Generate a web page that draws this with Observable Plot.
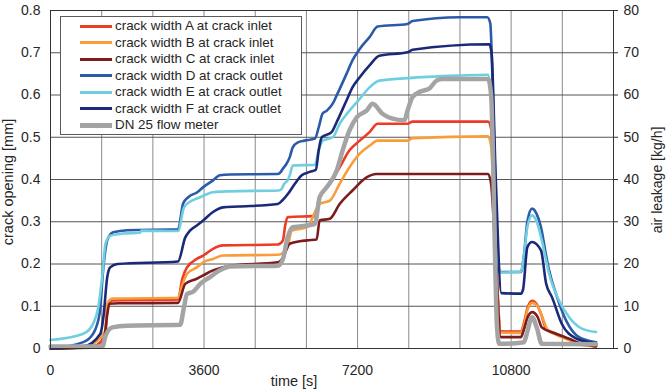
<!DOCTYPE html>
<html>
<head>
<meta charset="utf-8">
<script src="https://cdn.jsdelivr.net/npm/d3@7"></script>
<script src="https://cdn.jsdelivr.net/npm/@observablehq/plot@0.6"></script>
<style>
  body { margin: 0; background: #fff; font-family: "Liberation Sans", Arial, sans-serif; }
  #chart { position: relative; width: 668px; height: 392px; }
  .legend { position: absolute; left: 60px; top: 16px; width: 242px; height: 119px;
            border: 1px solid #5a5a5a; background: #fff; box-sizing: border-box; }
  .legend .row { position: absolute; left: 0; height: 16px; line-height: 16px;
                 font-size: 13.4px; color: #262626; white-space: nowrap; }
  .legend .swatch { position: absolute; left: 19px; width: 32px; top: 6.5px; height: 3px; }
  .legend .label { position: absolute; left: 54px; top: 0; }
</style>
</head>
<body>
<div id="chart"></div>
<script>
// Time in seconds, crack opening in mm
const crackA = [
  [0,0],[1000,0.005],[1170,0.015],[1290,0.035],[1330,0.098],[1450,0.114],[2990,0.116],
  [3090,0.165],[3200,0.192],[3430,0.212],[3580,0.220],[3810,0.236],[4040,0.244],[5330,0.246],
  [5450,0.256],[5500,0.290],[5560,0.311],[6240,0.314],[6310,0.358],[6550,0.390],[6780,0.429],
  [7010,0.469],[7250,0.492],[7480,0.512],[7670,0.532],[8370,0.532],[8490,0.537],[10260,0.537],
  [10330,0.52],[10450,0.2],[10560,0.041],[11030,0.040],[11100,0.06],[11180,0.095],[11290,0.113],
  [11400,0.105],[11500,0.082],[11620,0.047],[11850,0.035],[12160,0.021],[12390,0.011],[12790,0.005]
];
const crackB = [
  [0,0],[770,0.003],[1100,0.019],[1290,0.043],[1330,0.106],[1450,0.118],[2990,0.120],
  [3090,0.150],[3200,0.177],[3430,0.192],[3580,0.204],[3810,0.212],[4040,0.220],[5330,0.222],
  [5540,0.235],[5660,0.279],[6010,0.287],[6310,0.342],[6550,0.350],[6780,0.390],[7010,0.429],
  [7250,0.461],[7480,0.480],[7670,0.492],[8370,0.492],[8490,0.498],[10260,0.502],[10330,0.48],
  [10450,0.2],[10560,0.038],[11030,0.037],[11100,0.055],[11180,0.09],[11290,0.108],[11420,0.1],
  [11530,0.075],[11650,0.045],[11850,0.033],[12160,0.020],[12390,0.010],[12790,0.005]
];
const crackC = [
  [0,0],[1170,0.003],[1240,0.01],[1330,0.080],[1380,0.106],[1600,0.107],[2990,0.108],
  [3160,0.153],[3430,0.165],[3580,0.173],[3810,0.185],[4040,0.192],[4210,0.196],[5330,0.204],
  [5450,0.215],[5610,0.248],[6010,0.256],[6240,0.258],[6310,0.303],[6550,0.307],[6780,0.342],
  [7080,0.374],[7410,0.405],[7640,0.413],[10260,0.413],[10330,0.39],[10420,0.25],[10560,0.027],
  [11030,0.027],[11100,0.045],[11180,0.072],[11290,0.086],[11420,0.075],[11520,0.05],
  [11850,0.035],[12160,0.023],[12460,0.011],[12790,0.005]
];
const crackD = [
  [0,0],[770,0.015],[1000,0.035],[1150,0.082],[1240,0.192],[1330,0.256],[1470,0.275],
  [1800,0.280],[2990,0.282],[3110,0.343],[3230,0.358],[3440,0.370],[3580,0.382],[3810,0.398],
  [3970,0.410],[4210,0.412],[5330,0.413],[5400,0.418],[5450,0.426],[5520,0.435],[5610,0.453],
  [5680,0.476],[5800,0.488],[5960,0.492],[6200,0.497],[6290,0.524],[6380,0.556],[6480,0.563],
  [6620,0.580],[6710,0.599],[6940,0.650],[7080,0.682],[7250,0.709],[7480,0.737],[7670,0.762],
  [8370,0.768],[8490,0.775],[9590,0.784],[10240,0.784],[10310,0.77],[10400,0.5],[10500,0.19],
  [10570,0.181],[11030,0.181],[11100,0.22],[11180,0.30],[11290,0.331],[11400,0.318],
  [11500,0.287],[11620,0.22],[11690,0.185],[11850,0.13],[12090,0.066],[12390,0.027],[12790,0.015]
];
const crackE = [
  [0,0.020],[770,0.035],[1000,0.059],[1120,0.097],[1220,0.177],[1290,0.248],[1400,0.267],
  [1700,0.272],[2100,0.274],[2130,0.279],[2990,0.278],[3130,0.334],[3250,0.346],[3510,0.358],
  [3810,0.370],[4200,0.372],[5350,0.374],[5420,0.378],[5480,0.390],[5560,0.398],[5610,0.410],
  [5680,0.433],[6200,0.435],[6290,0.470],[6380,0.492],[6620,0.500],[6780,0.532],[7010,0.563],
  [7250,0.591],[7480,0.618],[7710,0.634],[8370,0.640],[9590,0.646],[10260,0.648],[10380,0.5],
  [10520,0.19],[10570,0.180],[11030,0.182],[11100,0.220],[11180,0.287],[11290,0.315],
  [11400,0.300],[11520,0.256],[11690,0.177],[11920,0.114],[12160,0.074],[12460,0.047],[12790,0.039]
];
const crackF = [
  [0,0],[770,0.005],[1170,0.035],[1240,0.074],[1330,0.169],[1400,0.192],[1570,0.200],
  [2990,0.206],[3160,0.263],[3270,0.279],[3430,0.291],[3580,0.303],[3810,0.323],[4040,0.334],
  [4400,0.336],[5330,0.342],[5450,0.352],[5560,0.365],[5730,0.390],[5890,0.410],[6080,0.418],
  [6220,0.423],[6290,0.470],[6360,0.500],[6590,0.512],[6710,0.536],[6940,0.587],[7080,0.618],
  [7250,0.642],[7480,0.670],[7710,0.693],[8370,0.701],[8490,0.707],[10290,0.720],[10340,0.70],
  [10440,0.4],[10570,0.131],[11030,0.130],[11080,0.14],[11180,0.240],[11290,0.252],[11500,0.232],
  [11620,0.154],[11760,0.121],[11990,0.058],[12320,0.024],[12790,0.012]
];
// Air leakage in kg/h (secondary axis)
const flowMeter = [
  [0,0.5],[1220,0.5],[1290,3],[1450,5.0],[1800,5.4],[3040,5.6],[3130,9.8],[3200,12.9],
  [3350,13.5],[3510,15.3],[3740,16.9],[3970,18.5],[4210,19.4],[5330,19.6],[5450,21.2],
  [5560,26.3],[5680,28.7],[5840,28.9],[6200,29.5],[6310,35.8],[6480,38.2],[6710,42.1],
  [6850,46.9],[7010,51.6],[7180,54.7],[7410,56.3],[7550,57.9],[7790,55.5],[8020,54.4],
  [8300,54.0],[8370,56.3],[8490,59.5],[8650,60.7],[8880,61.5],[9050,63.4],[9190,63.8],
  [10260,63.8],[10330,60],[10470,5],[10520,1.1],[11100,1.5],[11180,4],[11290,7.4],
  [11400,5],[11520,1.1],[12790,1.0]
];

const seriesNames = [
  "crack width A at crack inlet",
  "crack width B at crack inlet",
  "crack width C at crack inlet",
  "crack width D at crack outlet",
  "crack width E at crack outlet",
  "crack width F at crack outlet",
  "DN 25 flow meter"
];
const timeTicks = [0, 3600, 7200, 10800];
const timeGrid = [1200, 2400, 3600, 4800, 6000, 7200, 8400, 9600, 10800, 12000];
const openingTicks = [0, 0.1, 0.2, 0.3, 0.4, 0.5, 0.6, 0.7, 0.8];
const leakageTicks = [0, 10, 20, 30, 40, 50, 60, 70, 80];

// 80 kg/h on the right axis lines up with 0.8 mm on the left axis
const mmPerKgh = 0.8 / 80;

const colors = ["#ee3b25", "#f89d3a", "#7c1c1c", "#2b5aa9", "#6fcfe1", "#1b2a78", "#a4a4a4"];
const crackData = [crackA, crackB, crackC, crackD, crackE, crackF];

const fontFamily = "'Liberation Sans', Arial, sans-serif";

const chart = Plot.plot({
  width: 668,
  height: 392,
  marginLeft: 50,
  marginRight: 55,
  marginTop: 10,
  marginBottom: 44,
  style: { fontFamily, fontSize: "14px", color: "#262626", background: "#fff" },
  x: { domain: [0, 13200] },
  y: { domain: [0, 0.8] },
  marks: [
    Plot.gridX(timeGrid, { stroke: "#8a8a8a", strokeOpacity: 1 }),
    Plot.gridY(openingTicks, { stroke: "#555", strokeOpacity: 1 }),
    ...crackData.map((pts, i) => Plot.line(pts, {
      x: d => d[0], y: d => d[1], stroke: colors[i], strokeWidth: 2.6, curve: "monotone-x"
    })),
    Plot.line(flowMeter, {
      x: d => d[0], y: d => d[1] * mmPerKgh, stroke: colors[6], strokeWidth: 4.5, curve: "monotone-x"
    }),
    Plot.frame({ stroke: "#333", strokeWidth: 1 }),
    Plot.axisX(timeTicks, { tickSize: 0, tickPadding: 17, tickFormat: d => String(d), label: null }),
    Plot.axisY(openingTicks, {
      anchor: "left", tickSize: 0, tickPadding: 10,
      tickFormat: d => d === 0 ? "0" : d.toFixed(1), label: null
    }),
    Plot.axisY(leakageTicks.map(v => v * mmPerKgh), {
      anchor: "right", tickSize: 4, tickPadding: 6, stroke: "#333",
      tickFormat: d => String(Math.round(d / mmPerKgh)), label: null
    })
  ]
});

const host = document.getElementById("chart");
host.appendChild(chart);

// Axis titles
const svg = d3.select(chart);
svg.append("text")
  .attr("x", 294).attr("y", 386)
  .attr("text-anchor", "middle")
  .attr("font-size", 14.5).attr("font-family", fontFamily).attr("fill", "#262626")
  .text("time [s]");
svg.append("text")
  .attr("transform", "translate(13,182) rotate(-90)")
  .attr("text-anchor", "middle")
  .attr("font-size", 14.5).attr("font-family", fontFamily).attr("fill", "#262626")
  .text("crack opening [mm]");
svg.append("text")
  .attr("transform", "translate(661.5,180) rotate(-90)")
  .attr("text-anchor", "middle")
  .attr("font-size", 14).attr("font-family", fontFamily).attr("fill", "#262626")
  .text("air leakage [kg/h]");

// Legend box
const legend = document.createElement("div");
legend.className = "legend";
seriesNames.forEach((name, i) => {
  const row = document.createElement("div");
  row.className = "row";
  row.style.top = (1 + i * 16.55) + "px";
  const sw = document.createElement("span");
  sw.className = "swatch";
  sw.style.background = colors[i];
  if (i === 6) { sw.style.height = "5px"; sw.style.top = "5.5px"; }
  const lb = document.createElement("span");
  lb.className = "label";
  lb.textContent = name;
  row.appendChild(sw);
  row.appendChild(lb);
  legend.appendChild(row);
});
host.appendChild(legend);
</script>
</body>
</html>
